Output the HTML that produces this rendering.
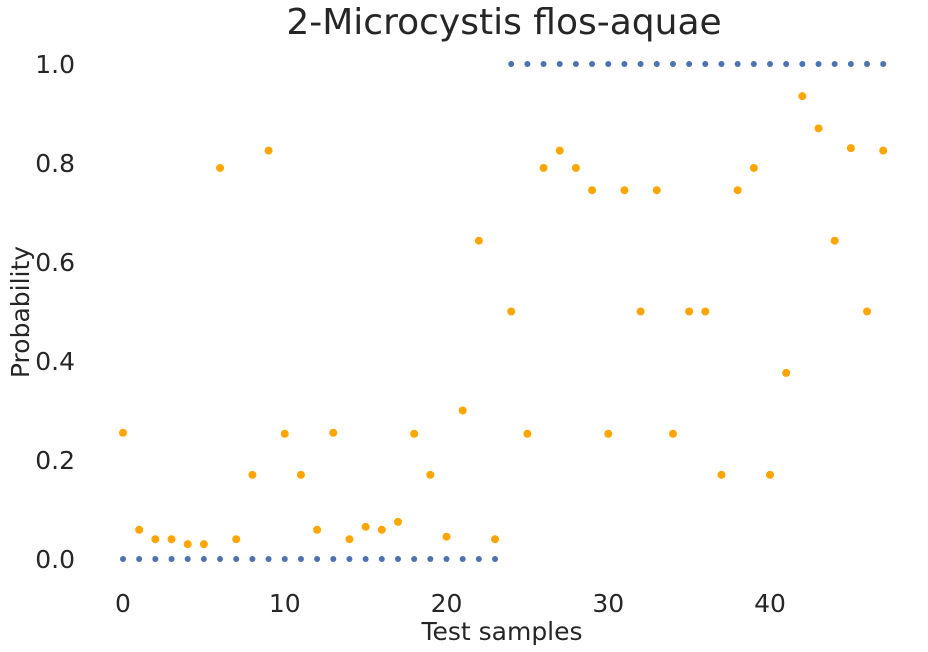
<!DOCTYPE html>
<html><head><meta charset="utf-8"><style>
body{margin:0;background:#fff;}
svg{display:block;font-family:"DejaVu Sans","Liberation Sans",sans-serif;}
</style></head><body>
<svg id="chart" width="928" height="652"></svg>
<script>
const samples=[...Array(48).keys()];
const trueLabels=[0,0,0,0,0,0,0,0,0,0,0,0,0,0,0,0,0,0,0,0,0,0,0,0,1,1,1,1,1,1,1,1,1,1,1,1,1,1,1,1,1,1,1,1,1,1,1,1];
const predProb=[0.255,0.059,0.04,0.04,0.03,0.03,0.79,0.04,0.17,0.825,0.253,0.17,0.059,0.255,0.04,0.065,0.059,0.075,0.253,0.17,0.045,0.30,0.643,0.04,0.5,0.253,0.79,0.825,0.79,0.745,0.253,0.745,0.5,0.745,0.253,0.5,0.5,0.17,0.745,0.79,0.17,0.376,0.935,0.87,0.643,0.83,0.5,0.825];
const xTicks=[0,10,20,30,40];
const yTicks=[0.0,0.2,0.4,0.6,0.8,1.0];
const NS="http://www.w3.org/2000/svg";
const svg=document.getElementById('chart');
const xs=v=>123+v*16.175;
const ys=v=>559-v*495;
function mk(tag,attrs,text){const e=document.createElementNS(NS,tag);for(const k in attrs)e.setAttribute(k,attrs[k]);if(text!==undefined)e.textContent=text;svg.appendChild(e);return e;}
let t=mk('text',{x:504,y:34,'text-anchor':'middle','font-size':36,fill:'#262626'},'2-Microcystis flos-aquae');


xTicks.forEach(v=>{const e=mk('text',{x:xs(v),y:612,'text-anchor':'middle','font-size':25,fill:'#262626'},String(v));

});
yTicks.forEach(v=>{const e=mk('text',{x:75,y:ys(v)+9,'text-anchor':'end','font-size':25,fill:'#262626'},v.toFixed(1));

});
t=mk('text',{x:502,y:640,'text-anchor':'middle','font-size':25,fill:'#262626'},'Test samples');


t=mk('text',{x:0,y:0,'text-anchor':'middle','font-size':25,fill:'#262626',transform:'translate(29,312) rotate(-90)'},'Probability');


samples.forEach((s,i)=>{const c=mk('circle',{cx:xs(s),cy:ys(trueLabels[i]),r:3,fill:'#4c72b0'});

});
samples.forEach((s,i)=>{const c=mk('circle',{cx:xs(s),cy:ys(predProb[i]),r:4,fill:'#ffa500'});

});
</script>
</body></html>
